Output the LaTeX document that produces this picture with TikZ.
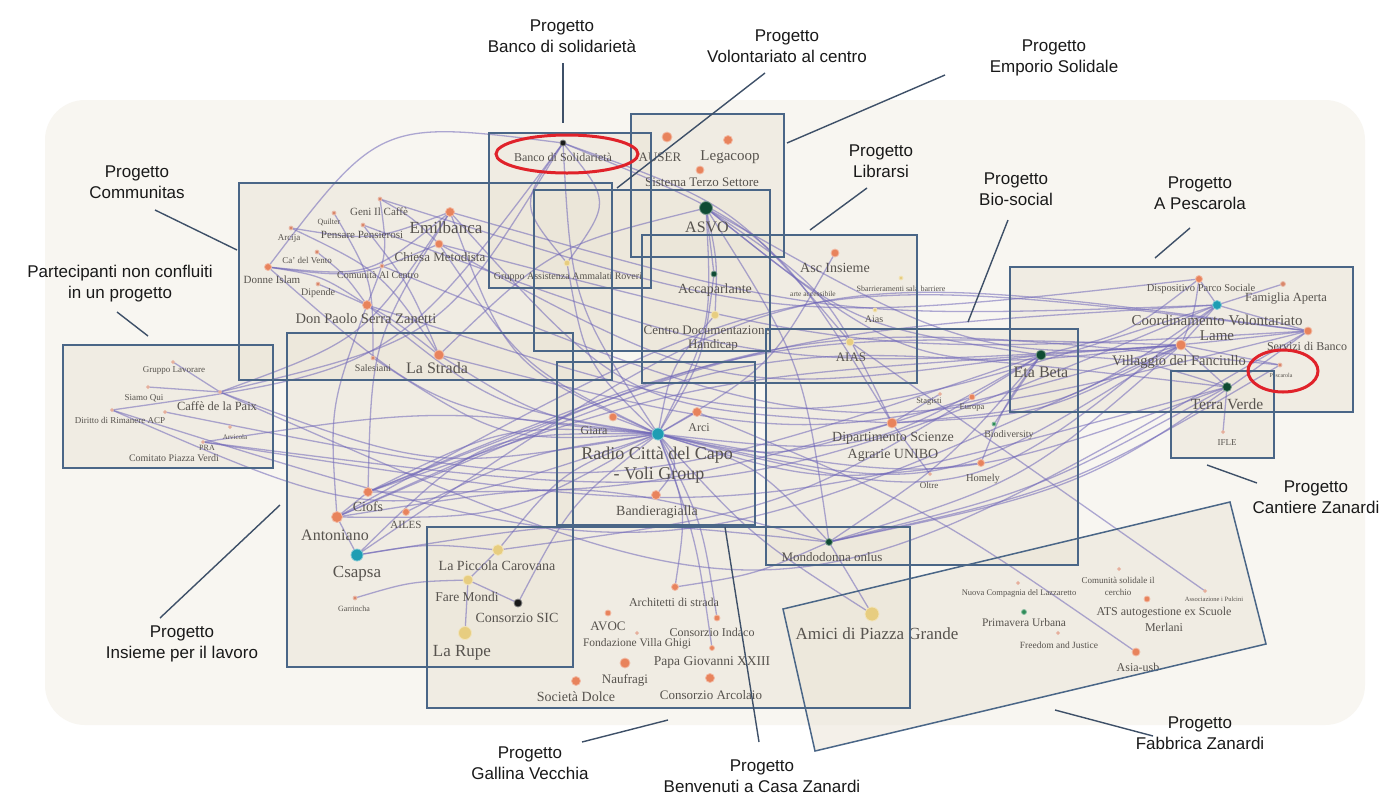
\documentclass[tikz,border=0pt]{standalone}
\usepackage{fontspec}
\setmainfont{Liberation Serif}
\setsansfont{Liberation Sans}
\usetikzlibrary{calc}
\pgfdeclarelayer{bg}\pgfdeclarelayer{edges}\pgfsetlayers{bg,edges,main}
\definecolor{orc}{HTML}{E8835C}
\definecolor{tec}{HTML}{1E9DB3}
\definecolor{dgc}{HTML}{0F4B33}
\definecolor{yec}{HTML}{E7CD80}
\definecolor{bkc}{HTML}{1A1A1A}
\definecolor{smc}{HTML}{D9876A}
\definecolor{grc}{HTML}{2E8B57}
\definecolor{edgec}{HTML}{6F66B8}
\definecolor{boxc}{HTML}{4A6687}
\definecolor{boxf}{HTML}{EBE5D8}
\definecolor{bgc}{HTML}{F8F6F1}
\definecolor{labc}{HTML}{57534E}
\definecolor{leadc}{HTML}{3E5068}
\definecolor{ringc}{HTML}{E0222A}
\tikzset{
  dot/.style n args={2}{circle, fill=#1, draw=#1!55, line width=0.8pt, minimum size=#2pt, inner sep=0pt},
  lab/.style={font=\fontsize{#1}{#1}\selectfont, text=labc, inner sep=0pt},
  plab/.style={font=\sffamily\fontsize{17}{21}\selectfont, align=center, text=black!90},
  link/.style={draw=edgec, line width=1.3pt, draw opacity=0.55},
  boxline/.style={draw=boxc, line width=1.5pt},
  boxfill/.style={fill=boxf, fill opacity=0.55},
  lead/.style={draw=leadc, line width=1.4pt},
  ring/.style={draw=ringc, line width=3pt}
}
\begin{document}
\begin{tikzpicture}[x=1pt,y=-1pt]
\path[use as bounding box] (0,0) rectangle (1393,796);
\begin{pgfonlayer}{bg}
\fill[white] (0,0) rectangle (1393,796);
\fill[bgc, rounded corners=40pt] (45,100) rectangle (1365,725);
\fill[boxfill] (63,345) rectangle (273,468);
\fill[boxfill] (239,183) rectangle (612,380);
\fill[boxfill] (489,133) rectangle (651,288);
\fill[boxfill] (534,190) rectangle (770,351);
\fill[boxfill] (631,114) rectangle (784,257);
\fill[boxfill] (642,235) rectangle (917,383);
\fill[boxfill] (766,329) rectangle (1078,565);
\fill[boxfill] (1010,267) rectangle (1353,412);
\fill[boxfill] (1171,371) rectangle (1274,458);
\fill[boxfill] (557,362) rectangle (755,525);
\fill[boxfill] (287,333) rectangle (573,667);
\fill[boxfill] (427,527) rectangle (910,708);
\fill[boxfill] (783,609) -- (1230,502) -- (1266,644) -- (815,751) -- cycle;
\end{pgfonlayer}

% ---------- network nodes ----------
\node[dot={bkc}{6}] (banco) at (563,143) {};
\node[dot={orc}{10}] (auser) at (667,137) {};
\node[dot={orc}{9}] (legacoop) at (728,140) {};
\node[dot={orc}{8}] (sistema) at (700,170) {};
\node[dot={dgc}{13}] (asvo) at (706,208) {};
\node[dot={dgc}{6}] (accap) at (714,274) {};
\node[dot={yec}{8}] (cdh) at (715,315) {};
\node[dot={orc}{8}] (ascins) at (835,253) {};
\node[dot={yec}{4}] (sbarr) at (901,278) {};
\node[dot={yec}{4}] (aiassm) at (875,310) {};
\node[dot={yec}{8}] (aias) at (850,342) {};
\node[dot={yec}{6}] (gruppo) at (567,263) {};
\node[dot={smc}{4}] (geni) at (380,199) {};
\node[dot={smc}{4}] (quilter) at (334,213) {};
\node[dot={smc}{4}] (arcija) at (291,228) {};
\node[dot={smc}{4}] (pensare) at (363,225) {};
\node[dot={orc}{9}] (emil) at (450,212) {};
\node[dot={orc}{8}] (chiesa) at (439,244) {};
\node[dot={smc}{4}] (cadel) at (317,252) {};
\node[dot={smc}{4}] (comun) at (382,266) {};
\node[dot={orc}{7}] (unione) at (268,267) {};
\node[dot={smc}{4}] (dipadre) at (318,284) {};
\node[dot={orc}{9}] (donpaolo) at (367,305) {};
\node[dot={smc}{4}] (salesiani) at (373,358) {};
\node[dot={orc}{10}] (lastrada) at (439,355) {};
\node[dot={smc}{3}] (gruppolav) at (173,362) {};
\node[dot={smc}{3}] (siamo) at (148,387) {};
\node[dot={smc}{3}] (caffe) at (220,392) {};
\node[dot={smc}{3}] (diritto) at (112,410) {};
\node[dot={smc}{3}] (diritto2) at (165,412) {};
\node[dot={smc}{3}] (arvicola) at (230,427) {};
\node[dot={smc}{3}] (pra) at (203,442) {};
\node[dot={orc}{8}] (giara) at (613,417) {};
\node[dot={orc}{9}] (arci) at (697,412) {};
\node[dot={tec}{12}] (radio) at (658,434) {};
\node[dot={orc}{9}] (bandiera) at (656,495) {};
\node[dot={smc}{3}] (stag) at (940,394) {};
\node[dot={orc}{6}] (euro) at (972,397) {};
\node[dot={orc}{10}] (dip) at (892,423) {};
\node[dot={grc}{4}] (bio) at (994,424) {};
\node[dot={smc}{3}] (oltre) at (930,474) {};
\node[dot={orc}{7}] (homely) at (981,463) {};
\node[dot={dgc}{7}] (mondo) at (829,542) {};
\node[dot={dgc}{10}] (etabeta) at (1041,355) {};
\node[dot={orc}{7}] (disp) at (1199,279) {};
\node[dot={smc}{5}] (famiglia) at (1283,284) {};
\node[dot={tec}{9}] (coord) at (1217,305) {};
\node[dot={orc}{8}] (servizi) at (1308,331) {};
\node[dot={orc}{10}] (villaggio) at (1181,345) {};
\node[dot={smc}{4}] (pesc) at (1280,365) {};
\node[dot={dgc}{9}] (terra) at (1227,387) {};
\node[dot={smc}{3}] (ifle) at (1223,432) {};
\node[dot={orc}{9}] (ciofs) at (368,492) {};
\node[dot={orc}{11}] (antoniano) at (337,517) {};
\node[dot={orc}{7}] (ailes) at (406,512) {};
\node[dot={tec}{12}] (csapsa) at (357,555) {};
\node[dot={smc}{4}] (garrincha) at (355,598) {};
\node[dot={yec}{11}] (piccola) at (498,550) {};
\node[dot={yec}{10}] (fare) at (468,580) {};
\node[dot={bkc}{8}] (sic) at (518,603) {};
\node[dot={yec}{13}] (rupe) at (465,633) {};
\node[dot={orc}{7}] (archi) at (675,587) {};
\node[dot={orc}{6}] (avoc) at (608,613) {};
\node[dot={smc}{3}] (small1) at (637,633) {};
\node[dot={orc}{6}] (indaco) at (717,618) {};
\node[dot={orc}{5}] (ghigi) at (712,648) {};
\node[dot={orc}{10}] (papa) at (625,663) {};
\node[dot={orc}{9}] (naufragi) at (576,681) {};
\node[dot={orc}{9}] (arcolaio) at (710,678) {};
\node[dot={yec}{14}] (amici) at (872,614) {};
\node[dot={smc}{3}] (nuova) at (1018,583) {};
\node[dot={smc}{3}] (comsol) at (1119,569) {};
\node[dot={smc}{3}] (assoc) at (1205,591) {};
\node[dot={orc}{6}] (ats) at (1147,599) {};
\node[dot={grc}{5}] (primavera) at (1024,612) {};
\node[dot={smc}{3}] (freedom) at (1058,633) {};
\node[dot={orc}{8}] (asia) at (1136,652) {};

% ---------- labels ----------
\node[lab=12] (l-banco) at (563,157) {Banco di Solidarietà};
\node[lab=13] (l-auser) at (660,157) {AUSER};
\node[lab=15] (l-legacoop) at (730,157) {Legacoop};
\node[lab=13] (l-sistema) at (702,182) {Sistema Terzo Settore};
\node[lab=16] (l-asvo) at (707,227) {ASVO};
\node[lab=14] (l-accap) at (715,290) {Accaparlante};
\node[lab=13] (l-cdh1) at (707,330) {Centro Documentazione};
\node[lab=13] (l-cdh2) at (713,345) {Handicap};
\node[lab=14] (l-ascins) at (835,268) {Asc Insieme};
\node[lab=8] (l-sbarr) at (901,289) {Sbarrieramenti sala barriere};
\node[lab=7.5] (l-arte) at (813,294) {arte accessibile};
\node[lab=10] (l-aiassm) at (874,319) {Aias};
\node[lab=13] (l-aias) at (851,357) {AIAS};
\node[lab=10] (l-gruppo) at (568,277) {Gruppo Assistenza Ammalati Roveri};
\node[lab=11] (l-geni) at (379,212) {Geni Il Caffè};
\node[lab=8] (l-quilter) at (329,222) {Quilter};
\node[lab=9] (l-arcija) at (289,238) {Arcija};
\node[lab=11] (l-pensare) at (362,235) {Pensare Pensierosi};
\node[lab=17] (l-emil) at (446,228) {Emilbanca};
\node[lab=13] (l-chiesa) at (440,257) {Chiesa Metodista};
\node[lab=9] (l-cadel) at (307,260) {Ca' del Vento};
\node[lab=10] (l-comun) at (378,275) {Comunità Al Centro};
\node[lab=11] (l-unione) at (272,280) {Donne Islam};
\node[lab=10] (l-dipadre) at (318,293) {Dipende};
\node[lab=14.5] (l-donpaolo) at (366,319) {Don Paolo Serra Zanetti};
\node[lab=10] (l-salesiani) at (373,368) {Salesiani};
\node[lab=16] (l-lastrada) at (437,368) {La Strada};
\node[lab=9] (l-gruppolav) at (174,370) {Gruppo Lavorare};
\node[lab=9] (l-siamo) at (144,398) {Siamo Qui};
\node[lab=12.5] (l-caffe) at (217,406) {Caffè de la Paix};
\node[lab=9] (l-diritto) at (120,420) {Diritto di Rimanere ACP};
\node[lab=7] (l-arvicola) at (235,437) {Arvicola};
\node[lab=8] (l-pra) at (207,448) {PRA};
\node[lab=10] (l-comitato) at (174,458) {Comitato Piazza Verdi};
\node[lab=12] (l-giara) at (594,431) {Giara};
\node[lab=12] (l-arci) at (699,428) {Arci};
\node[lab=18] (l-radio1) at (657,455) {Radio Città del Capo};
\node[lab=18] (l-radio2) at (659,475) {- Voli Group};
\node[lab=14] (l-bandiera) at (657,512) {Bandieragialla};
\node[lab=8.5] (l-stag) at (929,402) {Stagisti};
\node[lab=8.5] (l-euro) at (972,408) {Europa};
\node[lab=14] (l-dip1) at (893,438) {Dipartimento Scienze};
\node[lab=14] (l-dip2) at (893,455) {Agrarie UNIBO};
\node[lab=10] (l-bio) at (1009,435) {Biodiversity};
\node[lab=9] (l-oltre) at (929,485) {Oltre};
\node[lab=10.5] (l-homely) at (983,479) {Homely};
\node[lab=13] (l-mondo) at (832,557) {Mondodonna onlus};
\node[lab=16] (l-etabeta) at (1041,372) {Eta Beta};
\node[lab=10.5] (l-disp) at (1201,289) {Dispositivo Parco Sociale};
\node[lab=12.5] (l-famiglia) at (1286,299) {Famiglia Aperta};
\node[lab=15] (l-coord1) at (1217,320) {Coordinamento Volontariato};
\node[lab=15] (l-coord2) at (1217,336) {Lame};
\node[lab=12] (l-servizi) at (1307,346) {Servizi di Banco};
\node[lab=14.5] (l-villaggio) at (1179,362) {Villaggio del Fanciullo};
\node[lab=6] (l-pesc) at (1281,375) {Pescarola};
\node[lab=15.5] (l-terra) at (1227,404) {Terra Verde};
\node[lab=9] (l-ifle) at (1227,443) {IFLE};
\node[lab=14] (l-ciofs) at (368,507) {Ciofs};
\node[lab=16] (l-antoniano) at (335,535) {Antoniano};
\node[lab=11] (l-ailes) at (406,525) {AILES};
\node[lab=17] (l-csapsa) at (357,574) {Csapsa};
\node[lab=8] (l-garrincha) at (354,609) {Garrincha};
\node[lab=14] (l-piccola) at (497,566) {La Piccola Carovana};
\node[lab=13.5] (l-fare) at (467,597) {Fare Mondi};
\node[lab=14] (l-sic) at (517,618) {Consorzio SIC};
\node[lab=17] (l-rupe) at (462,653) {La Rupe};
\node[lab=12] (l-archi) at (674,602) {Architetti di strada};
\node[lab=13] (l-avoc) at (608,626) {AVOC};
\node[lab=12] (l-indaco) at (712,632) {Consorzio Indaco};
\node[lab=11.5] (l-ghigi) at (637,644) {Fondazione Villa Ghigi};
\node[lab=13.5] (l-papa) at (712,662) {Papa Giovanni XXIII};
\node[lab=13] (l-naufragi) at (625,680) {Naufragi};
\node[lab=14] (l-dolce) at (576,697) {Società Dolce};
\node[lab=13] (l-arcolaio) at (711,695) {Consorzio Arcolaio};
\node[lab=17] (l-amici) at (877,634) {Amici di Piazza Grande};
\node[lab=8.5] (l-nuova) at (1019,593) {Nuova Compagnia del Lazzaretto};
\node[lab=9] (l-comsol1) at (1118,580) {Comunità solidale il};
\node[lab=9] (l-comsol2) at (1118,592) {cerchio};
\node[lab=6.5] (l-assoc) at (1214,599) {Associazione i Pulcini};
\node[lab=12] (l-ats1) at (1164,613) {ATS autogestione ex Scuole};
\node[lab=12] (l-ats2) at (1164,627) {Merlani};
\node[lab=11.5] (l-primavera) at (1024,623) {Primavera Urbana};
\node[lab=9.5] (l-freedom) at (1059,645) {Freedom and Justice};
\node[lab=12] (l-asia) at (1138,667) {Asia-usb};

% ---------- connectors ----------
\begin{pgfonlayer}{edges}
\foreach \a/\b/\k in {
 radio/banco/10, radio/gruppo/12, radio/asvo/-10, radio/accap/-8, radio/emil/15,
 radio/chiesa/10, radio/donpaolo/10, radio/lastrada/8, radio/salesiani/12,
 radio/caffe/10, radio/diritto/14, radio/pra/-5, radio/antoniano/10, radio/ciofs/-10,
 radio/csapsa/-15, radio/piccola/-10, radio/archi/10, radio/bandiera/25, radio/dip/-10,
 radio/etabeta/-12, radio/villaggio/-15, radio/coord/-18, radio/mondo/10, radio/homely/-8,
 radio/terra/-10, radio/giara/0, radio/arci/0, radio/cdh/10, radio/ascins/-10,
 radio/unione/12, radio/ailes/-6, radio/amici/-5, radio/sic/-8, radio/indaco/6, radio/ghigi/4,
 banco/gruppo/25, banco/gruppo/-25, banco/aias/10, banco/unione/-20, banco/dip/12,
 asvo/accap/0, asvo/cdh/5, asvo/etabeta/-10, asvo/villaggio/-15, asvo/dip/10,
 asvo/mondo/8, asvo/lastrada/-10, asvo/servizi/-12,
 unione/emil/-15, unione/chiesa/-10, arcija/lastrada/10, geni/donpaolo/10,
 quilter/salesiani/10, pensare/lastrada/5, cadel/donpaolo/5, dipadre/lastrada/5,
 emil/dip/-15, chiesa/etabeta/-12, donpaolo/coord/-12, lastrada/villaggio/-10,
 comun/servizi/-12, geni/chiesa/5, geni/disp/-8, emil/coord/-6, chiesa/servizi/-6,
 pensare/villaggio/-8, arcija/emil/-10, unione/donpaolo/8,
 caffe/servizi/-18, diritto/villaggio/-14, pra/coord/-10, siamo/caffe/0, gruppolav/caffe/0,
 caffe/banco/-15, diritto/banco/-15, caffe/emil/-12, pra/terra/-8, diritto2/etabeta/-10,
 antoniano/servizi/12, antoniano/terra/10, ciofs/villaggio/8, ciofs/etabeta/5,
 csapsa/mondo/5, csapsa/piccola/5, antoniano/mondo/8, ciofs/dip/-5, garrincha/fare/5,
 antoniano/csapsa/0, antoniano/ciofs/0, antoniano/donpaolo/8, ciofs/emil/10,
 csapsa/servizi/14, antoniano/pesc/10, ciofs/coord/6,
 mondo/servizi/-8, mondo/pesc/-6, mondo/terra/-5, mondo/villaggio/-8, mondo/etabeta/-5,
 mondo/amici/0, archi/mondo/-5, asia/arci/-4, assoc/aias/0,
 bio/etabeta/0, homely/etabeta/5, euro/dip/0, stag/dip/0, oltre/dip/0,
 dip/villaggio/-8, dip/coord/-10, etabeta/villaggio/0, etabeta/terra/5,
 disp/coord/0, coord/servizi/0, famiglia/coord/0, villaggio/terra/0, villaggio/pesc/0,
 terra/ifle/0, coord/villaggio/0, disp/villaggio/5, disp/etabeta/8,
 fare/piccola/0, rupe/fare/0, piccola/etabeta/-8, fare/sic/0
}{
 \pgfmathsetmacro\t{tan(1.5*\k)}
 \draw[link] (\a.center) .. controls ($(\a.center)!0.5!(\b.center)!\t!90:(\b.center)$) .. (\b.center);
}
\end{pgfonlayer}

% ---------- project boxes ----------
\draw[boxline] (63,345) rectangle (273,468);
\draw[boxline] (239,183) rectangle (612,380);
\draw[boxline] (489,133) rectangle (651,288);
\draw[boxline] (534,190) rectangle (770,351);
\draw[boxline] (631,114) rectangle (784,257);
\draw[boxline] (642,235) rectangle (917,383);
\draw[boxline] (766,329) rectangle (1078,565);
\draw[boxline] (1010,267) rectangle (1353,412);
\draw[boxline] (1171,371) rectangle (1274,458);
\draw[boxline] (557,362) rectangle (755,525);
\draw[boxline] (287,333) rectangle (573,667);
\draw[boxline] (427,527) rectangle (910,708);
\draw[boxline] (783,609) -- (1230,502) -- (1266,644) -- (815,751) -- cycle;

\draw[ring] (567,154) ellipse [x radius=71pt, y radius=19pt];
\draw[ring] (1283,371) ellipse [x radius=35pt, y radius=21pt];

% ---------- project labels and leaders ----------
\node[plab] (p-banco) at (562,36) {Progetto\\Banco di solidarietà};
\node[plab] (p-volont) at (787,46) {Progetto\\Volontariato al centro};
\node[plab] (p-emporio) at (1054,58) {Progetto\\Emporio Solidale};
\node[plab] (p-comm) at (137,182) {Progetto\\Communitas};
\node[plab] (p-libr) at (881,161) {Progetto\\Librarsi};
\node[plab] (p-bio) at (1016,189) {Progetto\\Bio-social};
\node[plab] (p-pesc) at (1200,193) {Progetto\\A Pescarola};
\node[plab] (p-part) at (120,284) {Partecipanti non confluiti\\in un progetto};
\node[plab] (p-cant) at (1316,497) {Progetto\\Cantiere Zanardi};
\node[plab] (p-ins) at (182,644) {Progetto\\Insieme per il lavoro};
\node[plab] (p-gall) at (530,763) {Progetto\\Gallina Vecchia};
\node[plab] (p-benv) at (762,776) {Progetto\\Benvenuti a Casa Zanardi};
\node[plab] (p-fabb) at (1200,733) {Progetto\\Fabbrica Zanardi};

\foreach \n/\xa/\ya/\xb/\yb in {
 banco/563/63/563/123, volont/765/73/617/188, emporio/945/75/787/143,
 comm/155/210/237/250, libr/867/188/810/230, bio/1008/220/968/322,
 pesc/1190/228/1155/258, part/117/312/148/336, cant/1257/483/1207/465,
 ins/160/618/280/505, gall/582/742/668/720, benv/759/742/725/527,
 fabb/1153/736/1055/710}{
 \coordinate (s-\n) at (\xa,\ya);
 \coordinate (e-\n) at (\xb,\yb);
 \draw[lead] (s-\n) -- (e-\n);
}
\end{tikzpicture}
\end{document}
